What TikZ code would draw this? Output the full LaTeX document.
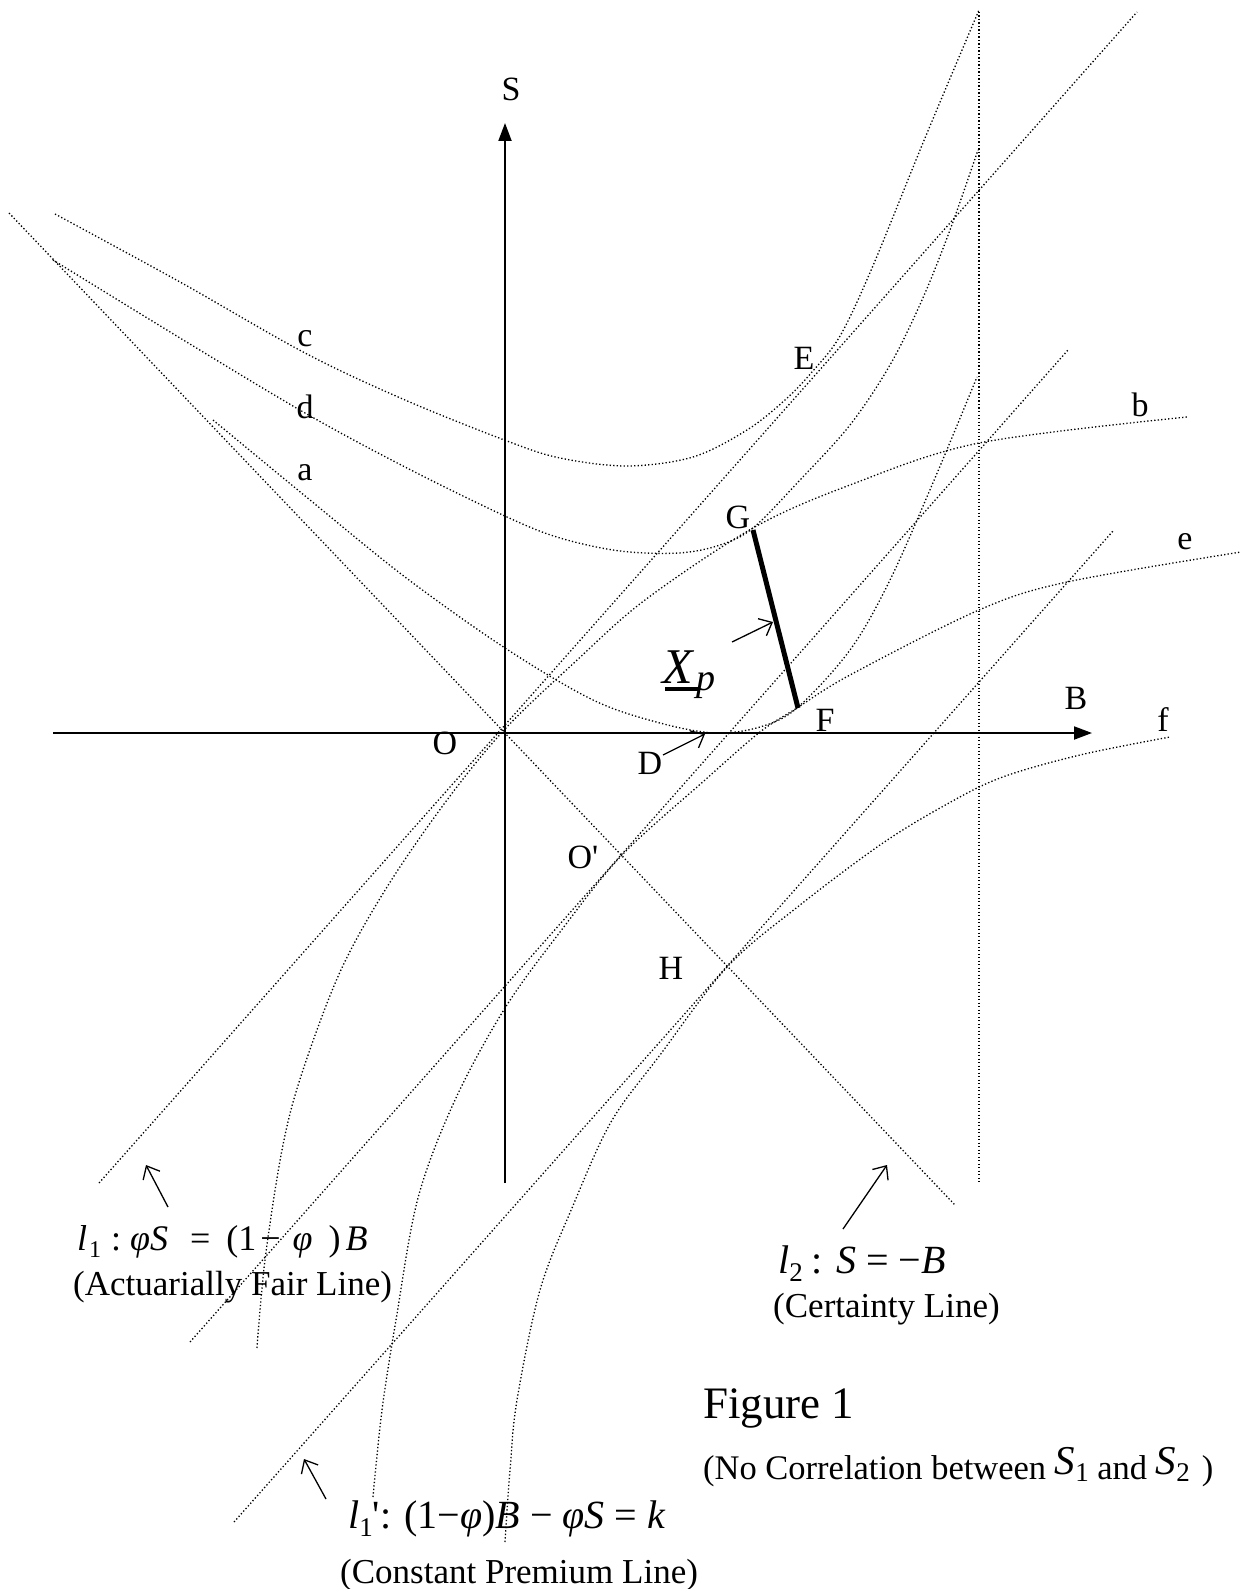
\documentclass[tikz,border=0pt]{standalone}
\usepackage{fontspec}
\setmainfont{Liberation Serif}[Ligatures=TeXOff]
\usepackage{graphicx}
\usetikzlibrary{arrows.meta}
\newcommand{\dnsub}[3]{\raisebox{-#1pt}{\fontsize{#2}{#2}\selectfont #3}}
\begin{document}
\begin{tikzpicture}[x=1pt,y=-1pt,
  dots/.style={line width=1.3pt,dash pattern=on 1.3pt off 2.2pt},
  axisline/.style={line width=2pt,-{Triangle[length=18pt,width=13pt]}},
  ptlab/.style={inner sep=0pt,font=\fontsize{34}{40}\selectfont},
  txt/.style={inner sep=0pt,anchor=base west},
  pointer/.style={line width=1.3pt,-{Straight Barb[length=11pt,width=19pt]}}]
\useasboundingbox (0,0) rectangle (1241,1589);

% axes
\coordinate (Sbot) at (505,1183);
\coordinate (Stop) at (505,123);
\coordinate (Bleft) at (53,733);
\coordinate (Bright) at (1092,733);
\draw[axisline] (Sbot) -- (Stop);
\draw[axisline] (Bleft) -- (Bright);

% straight dotted lines
\coordinate (l1a) at (99,1183);   \coordinate (l1b) at (1137,12);
\coordinate (mla) at (190,1342);  \coordinate (mlb) at (1068,350);
\coordinate (l1pa) at (234,1522); \coordinate (l1pb) at (1113,531);
\coordinate (l2a) at (9,213);     \coordinate (l2b) at (955,1205);
\coordinate (va) at (979,12);     \coordinate (vb) at (979,1182);
\draw[dots] (l1a) -- (l1b);
\draw[dots] (mla) -- (mlb);
\draw[dots] (l1pa) -- (l1pb);
\draw[dots] (l2a) -- (l2b);
\draw[dots] (va) -- (vb);

% curve c
\draw[dots] plot[smooth,tension=0.55] coordinates {(55,214) (180,282) (305,353) (405,400) (507,441) (560,458) (627,466) (693,457) (747,430) (785,400) (812,372) (840,336) (872,268) (925,138) (979,10)};
% curve d
\draw[dots] plot[smooth,tension=0.55] coordinates {(53,260) (180,338) (305,413) (405,467) (507,517) (560,538) (620,551) (679,553) (720,545) (753,528) (800,480) (850,425) (890,365) (922,300) (950,230) (978,150)};
% curve a
\draw[dots] plot[smooth,tension=0.55] coordinates {(213,420) (310,500) (405,577) (505,648) (593,700) (660,723) (715,733) (760,727) (797,708) (850,650) (890,580) (935,478) (977,377)};
% curve b
\draw[dots] plot[smooth,tension=0.55] coordinates {(257,1348) (265,1260) (282,1150) (301,1076) (340,972) (387,887) (447,800) (505,729) (575,662) (645,600) (753,528) (850,485) (979,443) (1187,417)};
% curve e
\draw[dots] plot[smooth,tension=0.55] coordinates {(373,1497) (382,1410) (396,1320) (418,1198) (455,1100) (505,1008) (560,932) (622,855) (705,780) (760,732) (797,708) (850,675) (979,610) (1067,582) (1241,552)};
% curve f
\draw[dots] plot[smooth,tension=0.55] coordinates {(505,1542) (510,1470) (517,1400) (540,1290) (572,1208) (611,1122) (660,1055) (728,966) (800,905) (880,845) (940,808) (1000,778) (1080,755) (1170,737)};

% thick segment G-F
\coordinate (Gp) at (753,530);
\coordinate (Fp) at (798,708);
\draw[line width=5pt] (Gp) -- (Fp);

% point labels
\node[ptlab] (labS) at (511,89) {S};
\node[ptlab] (labB) at (1076,698) {B};
\node[ptlab] (labO) at (445,743) {O};
\node[ptlab] (labD) at (650,763) {D};
\node[ptlab] (labF) at (825,720) {F};
\node[ptlab] (labG) at (738,517) {G};
\node[ptlab] (labE) at (804,358) {E};
\node[ptlab] (labOp) at (583,857) {O'};
\node[ptlab] (labH) at (671,968) {H};
\node[ptlab] (labc) at (305,339) {c};
\node[ptlab] (labd) at (305,407) {d};
\node[ptlab] (laba) at (305,473) {a};
\node[ptlab] (labb) at (1140,405) {b};
\node[ptlab] (labe) at (1185,542) {e};
\node[ptlab] (labf) at (1163,720) {f};

% X_p label
\node[txt] (labX) at (662,683) {\fontsize{50}{52}\selectfont\textit{X}\hspace{2pt}\dnsub{7}{38}{\textit{p}}};
\coordinate (ulA) at (665,689);
\coordinate (ulB) at (700,689);
\draw[line width=3.2pt] (ulA) -- (ulB);

% pointers
\coordinate (xpA) at (732,642); \coordinate (xpB) at (773,622);
\draw[pointer] (xpA) -- (xpB);
\coordinate (dA) at (663,755); \coordinate (dB) at (705,734);
\draw[pointer] (dA) -- (dB);
\coordinate (l1A) at (168,1207); \coordinate (l1B) at (146,1165);
\draw[pointer] (l1A) -- (l1B);
\coordinate (l1pA) at (326,1499); \coordinate (l1pB) at (304,1459);
\draw[pointer] (l1pA) -- (l1pB);
\coordinate (l2A) at (843,1229); \coordinate (l2B) at (887,1165);
\draw[pointer] (l2A) -- (l2B);

% equations and captions
\node[txt] (eq1) at (77,1250) {\fontsize{36}{40}\selectfont\textit{l}\hspace{2pt}\dnsub{7}{24}{1}\hspace{10pt}:\hspace{9pt}\textit{φS}\hspace{22pt}=\hspace{16pt}(1\hspace{4pt}−\hspace{12pt}\textit{φ}\hspace{16pt})\hspace{5pt}\textit{B}};
\node[txt] (cap1) at (73,1295) {\fontsize{35}{40}\selectfont (Actuarially Fair Line)};
\node[txt] (eq2) at (778,1273) {\fontsize{40}{44}\selectfont\textit{l}\dnsub{8}{27}{2}\hspace{9pt}: \textit{S} = −\textit{B}};
\node[txt] (cap2) at (773,1317) {\fontsize{35}{40}\selectfont (Certainty Line)};
\node[txt] (fig) at (703,1418) {\fontsize{45}{48}\selectfont Figure 1};
\node[txt] (cap3) at (703,1479) {\fontsize{34.5}{38}\selectfont (No Correlation between \raisebox{5pt}{\fontsize{41}{41}\selectfont\textit{S}}\dnsub{2}{27}{1} and \raisebox{5pt}{\fontsize{41}{41}\selectfont\textit{S}}\dnsub{2}{27}{2}\hspace{12pt})};
\node[txt] (eq3) at (348,1528) {\fontsize{40}{44}\selectfont\textit{l}\dnsub{8}{27}{1}': (1−\textit{φ})\textit{B} − \textit{φS} = \textit{k}};
\node[txt] (cap4) at (340,1583) {\fontsize{35}{40}\selectfont (Constant Premium Line)};
\end{tikzpicture}
\end{document}
